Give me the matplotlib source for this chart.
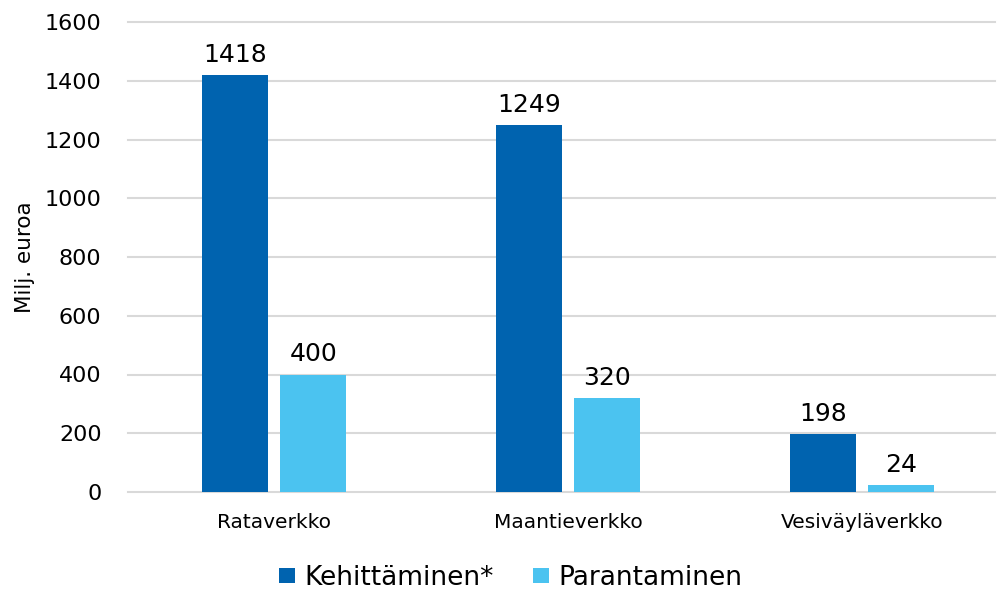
import matplotlib.pyplot as plt
import numpy as np

categories = ['Rataverkko', 'Maantieverkko', 'Vesiväyläverkko']
kehittaminen = [1418, 1249, 198]
parantaminen = [400, 320, 24]
series_names = ['Kehittäminen*', 'Parantaminen']
yticks = [0, 200, 400, 600, 800, 1000, 1200, 1400, 1600]

plt.rcParams['font.family'] = ['DejaVu Sans']

fig = plt.figure(figsize=(9.98, 5.91), dpi=100)
ax = fig.add_axes([128 / 998, 99 / 591, 867 / 998, 470 / 591])

x = np.arange(len(categories))
w = 0.225
off = 0.133
b1 = ax.bar(x - off, kehittaminen, w, color='#0063AF', label=series_names[0], zorder=3)
b2 = ax.bar(x + off, parantaminen, w, color='#4BC3F0', label=series_names[1], zorder=3)

for bars in (b1, b2):
    for rect in bars:
        h = rect.get_height()
        ax.annotate(f'{int(h)}', (rect.get_x() + rect.get_width() / 2, h),
                    xytext=(0, 6), textcoords='offset points',
                    ha='center', va='bottom', fontsize=18)

ax.set_xlim(-0.497, 2.452)
ax.set_ylim(0, 1600)
ax.set_yticks(yticks)
ax.set_xticks(x)
ax.set_xticklabels(categories, fontsize=14.5)
ax.tick_params(axis='y', labelsize=16, length=0, pad=19)
ax.tick_params(axis='x', length=0, pad=15)
ax.grid(axis='y', color='#D9D9D9', linewidth=1.5, zorder=0)
for line in ax.get_ygridlines():
    line.set_clip_on(False)
for s in ax.spines.values():
    s.set_visible(False)
ax.set_ylabel('Milj. euroa', fontsize=15.5, labelpad=7)

fig.legend(handles=[b1, b2], labels=series_names, loc='center',
           bbox_to_anchor=(511 / 998, 1 - 578 / 591), ncol=2, frameon=False,
           fontsize=19, handlelength=0.6, handleheight=0.5, handletextpad=0.35,
           columnspacing=1.5)

fig.savefig('out.png', dpi=100)
